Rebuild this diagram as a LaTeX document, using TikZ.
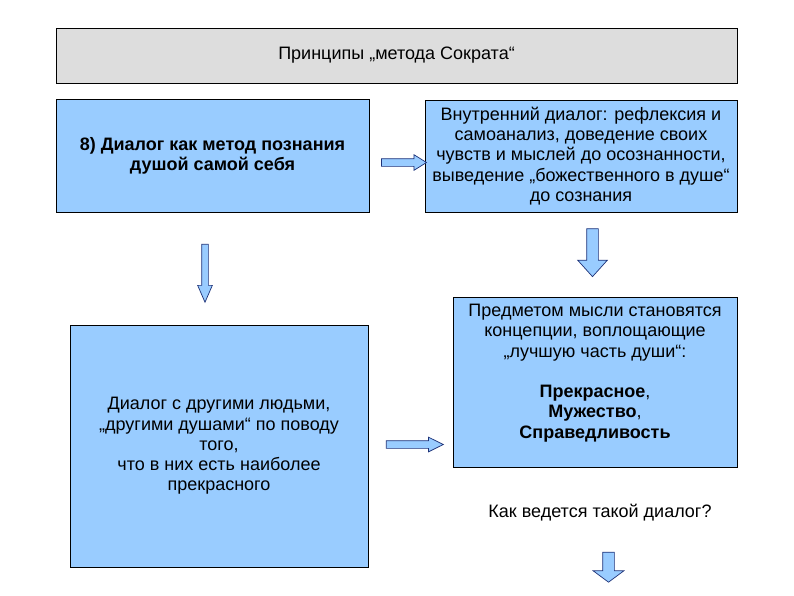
\documentclass[tikz,border=0pt]{standalone}
\usepackage{fontspec}
\setmainfont{Liberation Sans}
\usetikzlibrary{positioning}
\usetikzlibrary{calc}
\usetikzlibrary{shapes}
\usetikzlibrary{shapes.arrows}
\definecolor{boxblue}{RGB}{153,204,255}
\definecolor{headgray}{RGB}{221,221,221}
\definecolor{arrowline}{RGB}{30,50,120}
\tikzset{header/.style={rectangle, draw, fill=headgray, line width=0.8pt, minimum width=681pt, minimum height=55pt, font=\fontsize{18}{20.3}\selectfont}}
\tikzset{field/.style={rectangle, draw, fill=boxblue, line width=0.8pt, align=center, font=\fontsize{18}{20.3}\selectfont}}
\tikzset{note/.style={align=center, font=\fontsize{18}{20.3}\selectfont}}
\tikzset{bigarrow/.style={single arrow, draw=arrowline, fill=boxblue, line width=0.7pt, inner xsep=0pt, single arrow head indent=0pt}}

\begin{document}
\begin{tikzpicture}[x=1pt, y=-1pt]
    \useasboundingbox (0,0) rectangle (794,595);

    \node [header] (title0) at (396.5,55.5) {Принципы „метода Сократа“};

    \node [field, minimum width=313pt, minimum height=113pt, font=\fontsize{18}{20.3}\selectfont\bfseries]
        (dialogMethod0) at (212.5,155.5) {8) Диалог как метод познания\\ душой самой себя};
    \node [field, minimum width=312pt, minimum height=112pt] (innerDialog0) at (581,156)
        {Внутренний диалог: рефлексия и\\ самоанализ, доведение своих\\ чувств и мыслей до осознанности,\\ выведение „божественного в душе“\\ до сознания};

    \node [field, minimum width=298pt, minimum height=242pt] (otherSouls0) at (219,446)
        {Диалог с другими людьми,\\ „другими душами“ по поводу\\ того,\\ что в них есть наиболее\\ прекрасного};
    \node [field, minimum width=284pt, minimum height=170pt] (thoughtSubject0) at (595,382) {};
    \node [note] (thoughtText0) at ($(thoughtSubject0) + (0,-9)$)
        {Предметом мысли становятся\\ концепции, воплощающие\\ „лучшую часть души“:\\[20.3pt]
        \textbf{Прекрасное},\\ \textbf{Мужество},\\ \textbf{Справедливость}};

    \node [note] (question0) at (600,513) {Как ведется такой диалог?};

    % The block arrows between the boxes.
    \node [bigarrow, inner ysep=3.5pt, single arrow head extend=4pt, single arrow tip angle=64, minimum height=45pt]
        (arrowRight0) at ($(dialogMethod0.east) + (31.5,7)$) {};
    \node [bigarrow, inner ysep=3.5pt, single arrow head extend=3.5pt, single arrow tip angle=53, minimum height=57pt]
        (arrowRight1) at ($(otherSouls0.east) + (42.5,-1.5)$) {};
    \node [bigarrow, rotate=-90, inner ysep=3pt, single arrow head extend=4pt, single arrow tip angle=47, minimum height=58pt]
        (arrowDown0) at ($(dialogMethod0.south) + (-7.5,57)$) {};
    \node [bigarrow, rotate=-90, inner ysep=5.5pt, single arrow head extend=9pt, single arrow tip angle=84, minimum height=48pt]
        (arrowDown1) at ($(innerDialog0.south) + (11.5,37)$) {};
    \node [bigarrow, rotate=-90, inner ysep=5.5pt, single arrow head extend=9.5pt, single arrow tip angle=107, minimum height=30pt]
        (arrowDown2) at ($(question0) + (8.5,52)$) {};

\end{tikzpicture}
\end{document}
